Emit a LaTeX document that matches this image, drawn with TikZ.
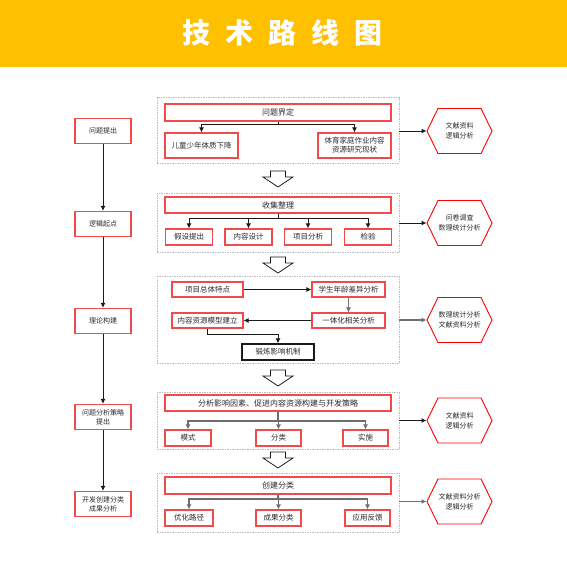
\documentclass[tikz,border=0pt]{standalone}
\usepackage{fontspec}
\setmainfont{Noto Sans CJK SC}
\usetikzlibrary{arrows.meta,shapes.symbols}
\definecolor{hdr}{HTML}{FFC000}
\definecolor{rbord}{HTML}{F24A4A}
\definecolor{txt}{HTML}{2A2A2A}
\definecolor{grp}{HTML}{BBBBBB}
\definecolor{ln}{HTML}{1A1A1A}
\definecolor{lng}{HTML}{6E6E6E}
\tikzset{
  box/.style={draw=rbord,line width=1.1pt,fill=white,text=txt,inner sep=1pt,align=center,font=\fontsize{7.5}{9}\selectfont},
  lbox/.style={box,minimum width=56pt,minimum height=25pt,font=\fontsize{7}{9}\selectfont},
  grpbox/.style={draw=grp,dashed,line width=0.5pt,dash pattern=on 1.5pt off 1pt,inner sep=0pt},
  hexa/.style={draw=red,line width=0.9pt,shape=signal,signal to=west and east,signal pointer angle=128,minimum width=65pt,minimum height=45pt,inner sep=0pt,text=txt,align=center,font=\fontsize{7}{10}\selectfont},
  con/.style={draw=ln,line width=1pt,-{Latex[length=5pt,width=5pt]}},
  cong/.style={draw=lng,line width=1.4pt,-{Latex[length=5pt,width=5pt]}},
  hollow/.style={draw=ln,line width=0.8pt,fill=white}
}
\begin{document}
\begin{tikzpicture}[x=1pt,y=-1pt]
\useasboundingbox (0,0) rectangle (567,567);
\fill[white] (0,0) rectangle (567,567);
\fill[hdr] (0,0) rectangle (567,67);
\node[text=white,font=\fontsize{28}{30}\selectfont\bfseries] (title) at (282.5,33) {技\hspace{15pt}术\hspace{15pt}路\hspace{15pt}线\hspace{15pt}图};

% left column
\node[lbox] (l1) at (103,131) {问题提出};
\node[lbox] (l2) at (103,224) {逻辑起点};
\node[lbox] (l3) at (103,321) {理论构建};
\node[lbox] (l4) at (103,417) {问题分析策略\\提出};
\node[lbox] (l5) at (103,504) {开发创建分类\\成果分析};
\draw[con] (l1) -- (l2);
\draw[con] (l2) -- (l3);
\draw[con] (l3) -- (l4);
\draw[con] (l4) -- (l5);

% groups
\node[grpbox,minimum width=242pt,minimum height=66pt] (g1) at (278,130) {};
\node[grpbox,minimum width=242pt,minimum height=59pt] (g2) at (278,222.5) {};
\node[grpbox,minimum width=242pt,minimum height=87pt] (g3) at (278,319.5) {};
\node[grpbox,minimum width=242pt,minimum height=57pt] (g4) at (278,420.5) {};
\node[grpbox,minimum width=242pt,minimum height=59pt] (g5) at (278,502.5) {};

% group 1
\node[box,minimum width=226pt,minimum height=17pt,font=\fontsize{8}{10}\selectfont] (t1) at (278,112.5) {问题界定};
\node[box,minimum width=73pt,minimum height=25pt] (c11) at (201.5,145.5) {儿童少年体质下降};
\node[box,minimum width=73pt,minimum height=25pt] (c12) at (354.5,145.5) {体育家庭作业内容\\资源研究现状};
\draw[con] (t1.south) -- (t1.south |- 0,125) -| (c11.north);
\draw[con] (t1.south) -- (t1.south |- 0,125) -| (c12.north);

% group 2
\node[box,minimum width=226pt,minimum height=16pt,font=\fontsize{8}{10}\selectfont] (t2) at (278,205) {收集整理};
\node[box,minimum width=47pt,minimum height=16pt] (c21) at (189,237) {假设提出};
\node[box,minimum width=47pt,minimum height=16pt] (c22) at (248.5,237) {内容设计};
\node[box,minimum width=47pt,minimum height=16pt] (c23) at (308,237) {项目分析};
\node[box,minimum width=47pt,minimum height=16pt] (c24) at (368,237) {检验};
\foreach \c in {c21,c22,c23,c24}{
  \draw[con] (t2.south) -- (t2.south |- 0,218) -| (\c.north);
}

% group 3
\node[box,minimum width=71pt,minimum height=15pt] (a3) at (207.5,289.5) {项目总体特点};
\node[box,minimum width=73pt,minimum height=15pt] (b3) at (348.5,289.5) {学生年龄差异分析};
\node[box,minimum width=73pt,minimum height=15pt] (c3) at (348.5,320.5) {一体化相关分析};
\node[box,minimum width=71pt,minimum height=15pt] (d3) at (207.5,320.5) {内容资源模型建立};
\node[box,draw=ln,minimum width=72pt,minimum height=16pt] (e3) at (278,352) {锻炼影响机制};
\draw[con] (a3) -- (b3);
\draw[cong] (b3) -- (c3);
\draw[con] (c3) -- (d3);
\draw[con] (d3.south) -- (d3.south |- 0,334) -| (e3.north);

% group 4
\node[box,minimum width=226pt,minimum height=16pt,font=\fontsize{8}{10}\selectfont] (t4) at (278,403) {分析影响因素、促进内容资源构建与开发策略};
\node[box,minimum width=46pt,minimum height=16pt] (c41) at (188,438) {模式};
\node[box,minimum width=45pt,minimum height=16pt] (c42) at (278.5,438) {分类};
\node[box,minimum width=45pt,minimum height=16pt] (c43) at (365.5,438) {实施};
\foreach \c in {c41,c42,c43}{
  \draw[cong] (t4.south) -- (t4.south |- 0,421) -| (\c.north);
}

% group 5
\node[box,minimum width=226pt,minimum height=17pt,font=\fontsize{8}{10}\selectfont] (t5) at (278,485.5) {创建分类};
\node[box,minimum width=48pt,minimum height=16pt] (c51) at (189,518) {优化路径};
\node[box,minimum width=45pt,minimum height=16pt] (c52) at (278.5,518) {成果分类};
\node[box,minimum width=45pt,minimum height=16pt] (c53) at (367.5,518) {应用反馈};
\foreach \c in {c51,c52,c53}{
  \draw[cong] (t5.south) -- (t5.south |- 0,499) -| (\c.north);
}

% hollow arrows
\foreach \y in {171,257,370,452}{
  \draw[hollow] (270.5,\y) -- (285.5,\y) -- (285.5,\y+6) -- (293,\y+6) -- (278,\y+16) -- (263,\y+6) -- (270.5,\y+6) -- cycle;
}

% hexagons
\node[hexa] (h1) at (459.5,131) {文献资料\\逻辑分析};
\node[hexa] (h2) at (459.5,223) {问卷调查\\数理统计分析};
\node[hexa] (h3) at (459.5,320) {数理统计分析\\文献资料分析};
\node[hexa] (h4) at (459.5,420.5) {文献资料\\逻辑分析};
\node[hexa] (h5) at (459.5,501.5) {文献资料分析\\逻辑分析};
\draw[con] (g1.east |- h1.west) -- (h1.west);
\draw[con] (g2.east |- h2.west) -- (h2.west);
\draw[cong] (g3.east |- h3.west) -- (h3.west);
\draw[con] (g4.east |- h4.west) -- (h4.west);
\draw[cong] (g5.east |- h5.west) -- (h5.west);
\end{tikzpicture}
\end{document}
